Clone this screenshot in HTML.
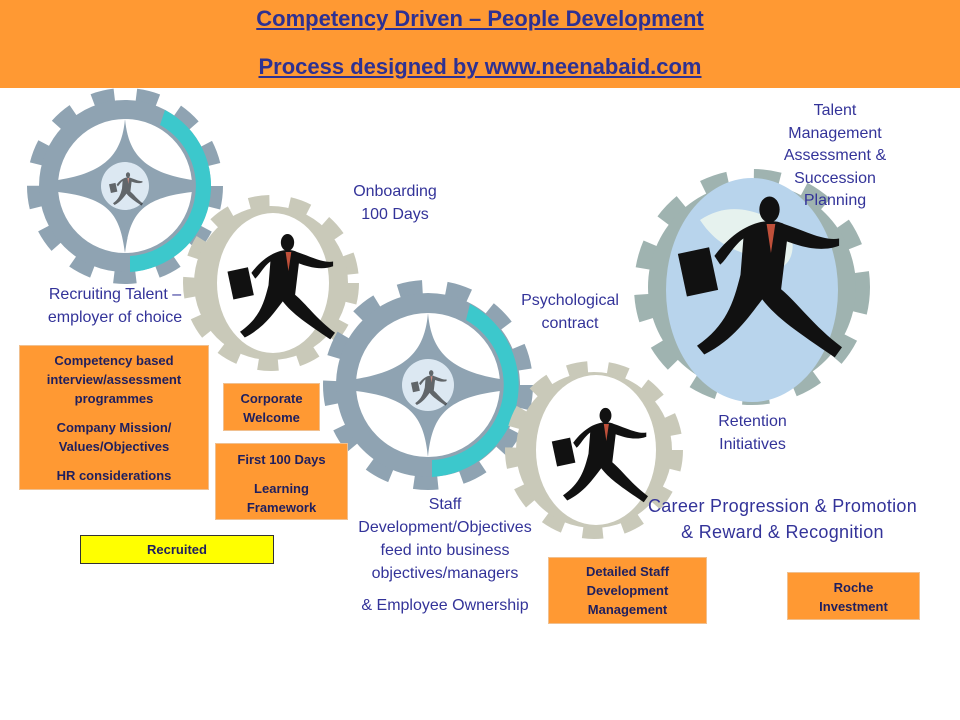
<!DOCTYPE html>
<html><head><meta charset="utf-8"><style>
body{margin:0;width:960px;height:720px;background:#fff;position:relative;overflow:hidden;font-family:"Liberation Sans",sans-serif}
.hdr{position:absolute;left:0;top:0;width:960px;height:88px;background:#ff9933}
.t{position:absolute;left:0;width:960px;text-align:center;font-weight:bold;font-size:22px;color:#2e3192;text-decoration:underline}
.lb{position:absolute;color:#333399;font-size:16px;text-align:center;line-height:23px}
.bx{position:absolute;background:#ff9933;border:1px solid #f0c090;color:#1f1f5e;font-weight:bold;font-size:13px;text-align:center;line-height:19px;box-sizing:border-box}
svg{position:absolute;left:0;top:0}
</style></head><body>
<div class="hdr"></div>
<div class="t" style="top:6px">Competency Driven – People Development</div>
<div class="t" style="top:54px">Process designed by www.neenabaid.com</div>
<svg width="960" height="720">
<defs>
<g id="run">
<rect x="-48" y="-30" width="22" height="30" fill="#111" transform="rotate(-12)"/>
<path d="M-28,-18 C-10,-42 10,-45 20,-40 C35,-35 48,-28 58,-30 L58,-25 C45,-20 30,-25 22,-28 L18,5 C30,15 40,30 60,45 L55,52 C30,35 15,25 5,12 C-5,25 -15,40 -35,50 L-40,44 C-20,30 -15,15 -10,-5 L-8,-30 C-15,-25 -20,-15 -24,-12 Z" fill="#111"/>
<ellipse cx="10" cy="-50" rx="7" ry="9" fill="#111"/>
<path d="M8,-40 L14,-40 L11,-20 Z" fill="#c0503a"/>
</g>
</defs>
<!-- gear 1 -->
<circle cx="125" cy="186" r="91" fill="none" stroke="#8fa3b2" stroke-width="14" stroke-dasharray="22 22"/>
<circle cx="125" cy="186" r="86" fill="#8fa3b2"/>
<path d="M165,110 A86,86 0 0 1 130,272 L130,256 A70,70 0 0 0 160,125Z" fill="#3cc8cc"/>
<circle cx="125" cy="186" r="67" fill="#fff"/>
<path d="M125,119 C128,150 140,172 192,180 L192,192 C140,198 130,215 125,253 C120,215 110,198 58,192 L58,180 C110,172 122,150 125,119Z" fill="#8fa3b2"/>
<circle cx="125" cy="186" r="24" fill="#dce8f2"/>
<use href="#run" transform="translate(125,190) scale(0.3)" opacity="0.6"/>
<!-- gear 2 -->
<circle cx="271" cy="283" r="81" fill="none" stroke="#c9c9b9" stroke-width="14" stroke-dasharray="20 20"/>
<circle cx="271" cy="283" r="77" fill="#c9c9b9"/>
<ellipse cx="273" cy="283" rx="56" ry="70" fill="#fff"/>
<use href="#run" transform="translate(278,290) scale(0.95)"/>
<!-- gear 3 -->
<circle cx="428" cy="385" r="98" fill="none" stroke="#8fa3b2" stroke-width="14" stroke-dasharray="24 24"/>
<circle cx="428" cy="385" r="92" fill="#8fa3b2"/>
<path d="M470,304 A92,92 0 0 1 432,477 L432,460 A75,75 0 0 0 466,320Z" fill="#3cc8cc"/>
<circle cx="428" cy="385" r="72" fill="#fff"/>
<path d="M428,313 C431,346 444,370 500,379 L500,391 C444,398 432,418 428,457 C424,418 412,398 356,391 L356,379 C412,370 425,346 428,313Z" fill="#8fa3b2"/>
<circle cx="428" cy="385" r="26" fill="#dce8f2"/>
<use href="#run" transform="translate(428,389) scale(0.32)" opacity="0.6"/>
<!-- gear 4 -->
<circle cx="594" cy="450" r="82" fill="none" stroke="#c9c9b9" stroke-width="14" stroke-dasharray="20 20"/>
<circle cx="594" cy="450" r="78" fill="#c9c9b9"/>
<ellipse cx="596" cy="450" rx="60" ry="75" fill="#fff"/>
<use href="#run" transform="translate(597,458) scale(0.85)"/>
<!-- gear 5 -->
<circle cx="752" cy="287" r="110" fill="none" stroke="#9fb3b0" stroke-width="16" stroke-dasharray="26 26"/>
<circle cx="752" cy="287" r="104" fill="#9fb3b0"/>
<ellipse cx="752" cy="290" rx="86" ry="112" fill="#b8d4ec"/>
<path d="M700,220 C730,200 760,210 790,230 C800,260 780,280 760,260 C740,250 720,250 700,220Z" fill="#e6f2ee"/>
<use href="#run" transform="translate(755,282) scale(1.45)"/>
</svg>
<div class="lb" style="left:20px;top:283px;width:190px">Recruiting Talent –<br>employer of choice</div>
<div class="lb" style="left:330px;top:180px;width:130px">Onboarding<br>100 Days</div>
<div class="lb" style="left:500px;top:289px;width:140px">Psychological<br>contract</div>
<div class="lb" style="left:770px;top:100px;width:130px;line-height:22.5px">Talent<br>Management<br>Assessment &amp;<br>Succession<br>Planning</div>
<div class="lb" style="left:690px;top:410px;width:125px">Retention<br>Initiatives</div>
<div class="lb" style="left:340px;top:493px;width:210px">Staff<br>Development/Objectives<br>feed into business<br>objectives/managers</div>
<div class="lb" style="left:340px;top:594px;width:210px">&amp; Employee Ownership</div>
<div class="lb" style="left:630px;top:493px;width:305px;font-size:18px;line-height:26px;letter-spacing:0.3px">Career Progression &amp; Promotion<br>&amp; Reward &amp; Recognition</div>
<div class="bx" style="left:19px;top:345px;width:190px;height:145px;padding-top:5px">Competency based<br>interview/assessment<br>programmes<div style="height:10px"></div>Company Mission/<br>Values/Objectives<div style="height:10px"></div>HR considerations</div>
<div class="bx" style="left:223px;top:383px;width:97px;height:48px;padding-top:5px">Corporate<br>Welcome</div>
<div class="bx" style="left:215px;top:443px;width:133px;height:77px;padding-top:6px">First 100 Days<div style="height:10px"></div>Learning<br>Framework</div>
<div class="bx" style="left:80px;top:535px;width:194px;height:29px;background:#ffff00;border:1px solid #333;padding-top:4px">Recruited</div>
<div class="bx" style="left:548px;top:557px;width:159px;height:67px;padding-top:4px">Detailed Staff<br>Development<br>Management</div>
<div class="bx" style="left:787px;top:572px;width:133px;height:48px;padding-top:5px">Roche<br>Investment</div>
</body></html>
